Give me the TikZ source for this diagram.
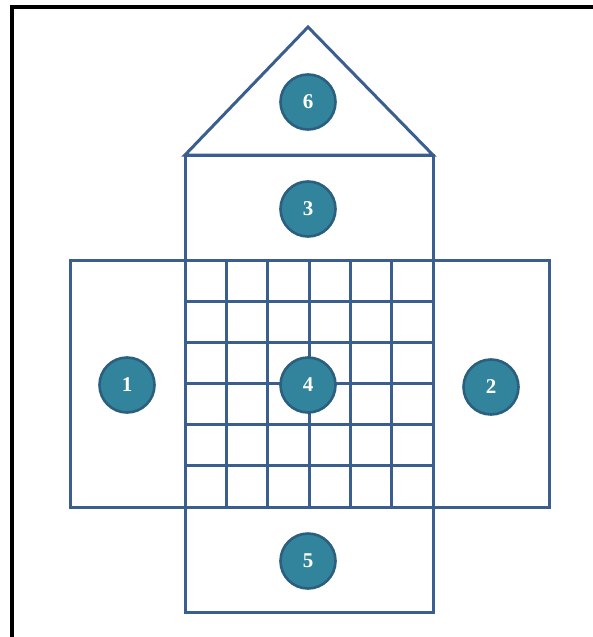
\documentclass[tikz,border=0pt]{standalone}
\usepackage{fontspec}
\setmainfont{Liberation Serif}
\definecolor{lineblue}{HTML}{3A5F8F}
\definecolor{tealfill}{HTML}{31849B}
\definecolor{tealedge}{HTML}{2B5F80}
\tikzset{
  panel/.style={draw=lineblue, line width=3pt, line join=miter},
  badge/.style={circle, fill=tealfill, draw=tealedge, line width=2.6pt, minimum size=55pt, inner sep=0pt, text=white, font=\bfseries\fontsize{21}{21}\selectfont},
  frameline/.style={draw=black, line width=4pt}
}
\begin{document}
\begin{tikzpicture}[x=1pt,y=-1pt]
\useasboundingbox (0,0) rectangle (593,637);
% frame (only left and top edges visible)
\coordinate (fa) at (12,637);
\coordinate (fb) at (12,7);
\coordinate (fc) at (593,7);
\draw[frameline] (fa) -- (fb) -- (fc);
% panels
\draw[panel] (185,155) -- (308,27) -- (433,155) -- cycle;
\draw[panel] (185,155) rectangle (433,260);
\draw[panel] (70,260) rectangle (185,507);
\draw[panel] (433,260) rectangle (549,507);
\draw[panel] (185,507) rectangle (433,612);
% grid
\foreach \i in {0,...,6} {
  \draw[panel] ({185+\i*248/6},260) -- ({185+\i*248/6},507);
  \draw[panel] (185,{260+\i*247/6}) -- (433,{260+\i*247/6});
}
% badges
\node[badge] (n6) at (308,102) {6};
\node[badge] (n3) at (308,209) {3};
\node[badge] (n1) at (127,385) {1};
\node[badge] (n4) at (308,385) {4};
\node[badge] (n2) at (491,387) {2};
\node[badge] (n5) at (308,561) {5};
\end{tikzpicture}
\end{document}
